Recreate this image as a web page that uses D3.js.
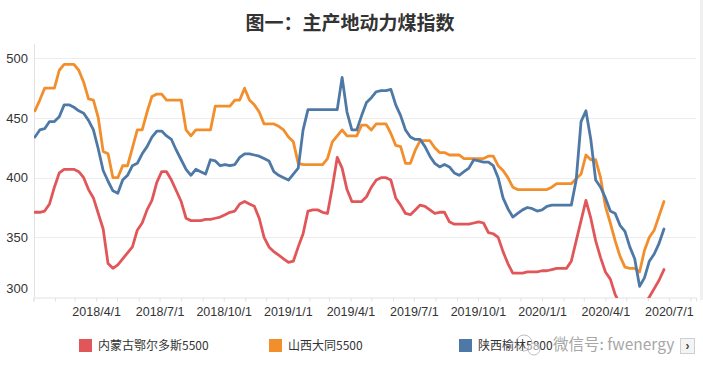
<!DOCTYPE html>
<html>
<head>
<meta charset="utf-8">
<script src="https://cdn.jsdelivr.net/npm/d3@7"></script>
<style>
  html, body { margin: 0; padding: 0; background: #fff; }
  svg { display: block; }
</style>
</head>
<body>
<svg id="chart" width="703" height="372"></svg>
<script>
// ---------- data ----------
const title = "图一：主产地动力煤指数";
const seriesNames = ["内蒙古鄂尔多斯5500", "山西大同5500", "陕西榆林5800"];
const seriesColors = ["#e15759", "#f28e2b", "#4e79a7"];
const yTicks = [300, 350, 400, 450, 500];
const xTickLabels = ["2018/4/1", "2018/7/1", "2018/10/1", "2019/1/1", "2019/4/1", "2019/7/1", "2019/10/1", "2020/1/1", "2020/4/1", "2020/7/1"];
const firstDate = "2018-01-03";   // weekly observations start here
const weekCount = 130;

const erdos = [371,371,372,378,392,404,407,407,407,405,400,390,383,370,357,328,324,327,332,337,
  342,356,362,373,381,396,405,405,398,389,380,366,364,364,364,365,365,366,367,369,
  371,372,378,380,378,376,366,350,342,338,335,332,329,330,342,353,372,373,373,371,
  370,392,417,408,390,380,380,380,384,392,398,400,400,398,383,377,370,369,373,377,
  376,373,370,371,371,363,361,361,361,361,362,363,362,354,353,350,338,328,320,320,
  320,321,321,321,322,322,323,324,324,324,330,347,364,381,366,347,333,321,315,302,
  294,290,288,288,290,294,300,307,314,323];

const datong = [456,465,475,475,475,490,495,495,495,490,480,466,465,450,422,420,400,400,410,410,
  425,440,440,455,468,470,470,465,465,465,465,440,435,440,440,440,440,460,460,460,
  460,465,465,475,465,461,455,445,445,445,443,440,434,430,412,411,411,411,411,411,
  416,430,435,440,435,435,435,444,444,440,445,445,445,437,427,426,412,412,423,431,
  431,431,425,421,421,419,419,419,416,416,416,416,416,418,418,410,406,400,392,390,
  390,390,390,390,390,390,392,395,395,395,395,399,403,419,415,415,400,376,362,347,
  334,325,324,324,321,339,350,356,368,380];

const yulin = [434,440,441,447,447,451,461,461,459,456,454,448,440,424,406,397,389,387,398,402,
  410,412,420,426,434,439,439,435,432,423,415,407,402,407,405,403,415,414,410,411,
  410,411,417,420,420,419,418,416,414,405,402,400,398,403,408,440,457,457,457,457,
  457,457,457,484,455,440,440,452,463,467,472,473,473,474,461,452,440,434,432,432,
  426,418,412,409,411,409,404,402,405,408,415,414,413,413,410,400,383,374,367,370,
  373,375,374,372,373,376,377,377,377,377,377,398,447,456,432,398,392,383,372,370,
  360,355,342,332,309,316,330,336,345,357];

// ---------- setup ----------
const svg = d3.select("#chart");
const plot = { left: 34, right: 696, top: 44, bottom: 297 };

const parse = d3.timeParse("%Y-%m-%d");
const start = parse(firstDate);
const dates = d3.range(weekCount).map(i => d3.timeDay.offset(start, 7 * i));

const x = d3.scaleTime()
  .domain([parse("2018-01-01"), parse("2020-08-09")])
  .range([plot.left - 0.5, plot.right]);
const y = d3.scaleLinear()
  .domain([300, 512])
  .range([plot.bottom, plot.top]);

const fontNum = "'Liberation Sans', Arial, 'Noto Sans CJK SC', sans-serif";
const fontCJK = "'Noto Sans CJK SC', 'Liberation Sans', sans-serif";

// right scrollbar strip
svg.append("rect").attr("x", 700).attr("y", 0).attr("width", 3).attr("height", 300).attr("fill", "#f0f0f0");

// title
svg.append("text")
  .attr("x", 350).attr("y", 30)
  .attr("text-anchor", "middle")
  .attr("font-family", fontCJK)
  .attr("font-weight", "bold")
  .attr("font-size", 19)
  .attr("fill", "#333")
  .text(title);

// gridlines
svg.append("g").selectAll("line")
  .data(yTicks.filter(v => v !== 300))
  .join("line")
  .attr("x1", plot.left).attr("x2", plot.right)
  .attr("y1", d => Math.round(y(d)) + 0.5).attr("y2", d => Math.round(y(d)) + 0.5)
  .attr("stroke", "#ececec").attr("stroke-width", 1);

// y axis line
svg.append("line")
  .attr("x1", plot.left + 0.5).attr("x2", plot.left + 0.5)
  .attr("y1", plot.top).attr("y2", plot.bottom)
  .attr("stroke", "#e2e2e2");

// y labels
svg.append("g").selectAll("text")
  .data(yTicks)
  .join("text")
  .attr("x", 28)
  .attr("y", d => d === 300 ? y(d) - 9 : y(d))
  .attr("dy", "0.35em")
  .attr("text-anchor", "end")
  .attr("font-family", fontNum)
  .attr("font-size", 13)
  .attr("fill", "#333")
  .text(d => d);

// x axis
const monthTicks = d3.timeMonth.range(parse("2018-01-01"), parse("2020-08-02"));
const xAxis = d3.axisBottom(x)
  .tickValues(monthTicks)
  .tickSize(4)
  .tickFormat(d => {
    const s = d3.timeFormat("%Y/%-m/%-d")(d);
    return xTickLabels.includes(s) ? s : "";
  });
const gx = svg.append("g")
  .attr("transform", `translate(0,${plot.bottom + 0.5})`)
  .call(xAxis);
gx.select(".domain").attr("stroke", "#e2e2e2");
gx.selectAll(".tick line").attr("stroke", "#e2e2e2");
gx.selectAll(".tick text")
  .attr("font-family", fontNum)
  .attr("font-size", 12.5)
  .attr("fill", "#333")
  .attr("y", 10);

// lines
svg.append("clipPath").attr("id", "clip")
  .append("rect")
  .attr("x", plot.left).attr("y", plot.top - 5)
  .attr("width", plot.right - plot.left).attr("height", plot.bottom - plot.top + 6);

const allSeries = [erdos, datong, yulin];
const line = d3.line()
  .x((d, i) => x(dates[i]))
  .y(d => y(d))
  .curve(d3.curveLinear);

const lg = svg.append("g").attr("clip-path", "url(#clip)");
allSeries.forEach((vals, k) => {
  lg.append("path")
    .datum(vals)
    .attr("d", line)
    .attr("fill", "none")
    .attr("stroke", seriesColors[k])
    .attr("stroke-width", 2.8)
    .attr("stroke-linejoin", "round")
    .attr("stroke-linecap", "round");
});

// legend
const legendX = [79, 269, 459];
const leg = svg.append("g");
seriesNames.forEach((name, k) => {
  leg.append("rect")
    .attr("x", legendX[k]).attr("y", 339)
    .attr("width", 13).attr("height", 13)
    .attr("fill", seriesColors[k]);
  leg.append("text")
    .attr("x", legendX[k] + 19).attr("y", 346)
    .attr("dy", "0.35em")
    .attr("font-family", fontCJK)
    .attr("font-size", 12)
    .attr("fill", "#333")
    .text(name);
});

// watermark
const wm = svg.append("g").attr("opacity", 0.75);
wm.append("circle").attr("cx", 524).attr("cy", 343).attr("r", 8).attr("fill", "none").attr("stroke", "#aaa").attr("stroke-width", 1);
wm.append("circle").attr("cx", 534).attr("cy", 349).attr("r", 6).attr("fill", "rgba(255,255,255,0.7)").attr("stroke", "#aaa").attr("stroke-width", 1);
wm.append("text")
  .attr("x", 553).attr("y", 345)
  .attr("dy", "0.35em")
  .attr("font-family", fontCJK)
  .attr("font-size", 15.5)
  .attr("fill", "#8a8a8a")
  .text("微信号: fwenergy");

// scroll arrow box
svg.append("rect").attr("x", 680.5).attr("y", 338.5).attr("width", 14).attr("height", 15)
  .attr("fill", "#f4f4f4").attr("stroke", "#cfcfcf");
svg.append("text").attr("x", 687.5).attr("y", 346).attr("dy", "0.35em")
  .attr("text-anchor", "middle")
  .attr("font-family", fontNum).attr("font-size", 12).attr("font-weight", "bold")
  .attr("fill", "#444").text("›");
</script>
</body>
</html>
